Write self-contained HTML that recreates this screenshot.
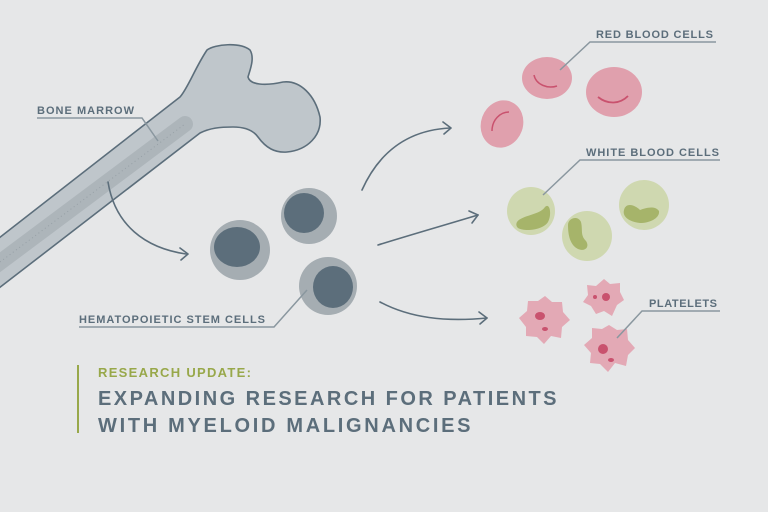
<!DOCTYPE html>
<html><head><meta charset="utf-8"><style>
html,body{margin:0;padding:0;background:#e6e7e8;}
svg{display:block;}
text{font-family:"Liberation Sans",sans-serif;font-weight:bold;}
</style></head><body>
<svg width="768" height="512" viewBox="0 0 768 512" xmlns="http://www.w3.org/2000/svg">
<rect width="768" height="512" fill="#e6e7e8"/>
<!-- bone -->
<path d="M-10,245 L180,97 C188,88 195,68 207,50 C215,44 240,42 250,50 C255,58 250,70 248,77 C250,85 265,86 283,82 C300,80 315,95 320,117 C322,135 308,150 287,152 C275,153 266,148 258,137 C253,130 245,127 233,127 C220,127 210,128 200,133 L-10,295 Z" fill="#bfc6cb" stroke="#5c6e7b" stroke-width="1.6" stroke-linejoin="round"/>
<line x1="-5" y1="266" x2="185" y2="124" stroke="#adb5ba" stroke-width="16" stroke-linecap="round"/>
<line x1="0" y1="262" x2="185" y2="124" stroke="#97a0a6" stroke-width="1" stroke-dasharray="1 3"/>
<!-- stem cells -->
<circle cx="240" cy="250" r="30" fill="#a5adb2"/>
<ellipse cx="237" cy="247" rx="23" ry="20" fill="#5c6e7b"/>
<circle cx="309" cy="216" r="28" fill="#a5adb2"/>
<ellipse cx="304" cy="213" rx="20" ry="20" fill="#5c6e7b"/>
<circle cx="328" cy="286" r="29" fill="#a5adb2"/>
<ellipse cx="333" cy="287" rx="20" ry="21" fill="#5c6e7b"/>
<!-- arrows -->
<g fill="none" stroke="#5c6e7b" stroke-width="1.6" stroke-linecap="round" stroke-linejoin="round">
<path d="M108,182 C115,225 145,248 186,254"/><path d="M180,248 L188,254 L181,260"/>
<path d="M362,190 C380,150 410,130 450,128"/><path d="M443,122 L451,128 L444,134"/>
<path d="M378,245 C410,235 445,225 478,215"/><path d="M469,211 L478,215 L472,223"/>
<path d="M380,302 C410,318 445,322 487,318"/><path d="M479,312 L487,318 L480,324"/>
</g>
<!-- RBC -->
<ellipse cx="547" cy="78" rx="25" ry="21" fill="#e0a0ad"/>
<path d="M534,75 C536,85 548,89 557,86" fill="none" stroke="#c9526e" stroke-width="1.5"/>
<ellipse cx="614" cy="92" rx="28" ry="25" fill="#e0a0ad"/>
<path d="M598,97 C608,105 620,104 628,96" fill="none" stroke="#c9526e" stroke-width="1.8"/>
<ellipse cx="502" cy="124" rx="21" ry="24" transform="rotate(20 502 124)" fill="#e0a0ad"/>
<path d="M509,112 C500,112 492,120 492,131" fill="none" stroke="#c9526e" stroke-width="1.5"/>
<!-- WBC -->
<circle cx="531" cy="211" r="24" fill="#cfd8b0"/>
<path d="M517,222 C522,215 540,215 545,207 C550,202 552,215 548,222 C543,230 525,232 518,228 C516,226 516,224 517,222 Z" fill="#a6b46a"/>
<circle cx="587" cy="236" r="25" fill="#cfd8b0"/>
<path d="M568,225 C568,218 578,215 581,222 C583,230 580,235 586,241 C590,247 585,252 578,249 C570,245 568,235 568,225 Z" fill="#a6b46a"/>
<circle cx="644" cy="205" r="25" fill="#cfd8b0"/>
<path d="M624,210 C626,202 635,205 640,210 C645,208 655,205 659,211 C660,218 650,223 640,223 C630,222 622,217 624,210 Z" fill="#a6b46a"/>
<!-- platelets -->
<polygon points="545,296 552,302 562,302 563,312 570,320 562,327 561,338 551,336 544,344 537,337 526,336 526,327 519,318 527,311 528,301 538,301" fill="#e3a9b5"/>
<ellipse cx="540" cy="316" rx="5" ry="4" fill="#c9526e"/>
<ellipse cx="545" cy="329" rx="3" ry="2" fill="#c9526e"/>
<polygon points="604,279 610,284 620,283 620,292 624,300 617,305 612,316 604,311 596,314 591,306 583,302 588,295 587,285 596,286" fill="#e3a9b5"/>
<ellipse cx="606" cy="297" rx="4" ry="4" fill="#c9526e"/>
<ellipse cx="595" cy="297" rx="2" ry="2" fill="#c9526e"/>
<polygon points="609,325 617,330 627,329 628,340 635,348 628,355 626,366 615,363 608,372 600,364 590,363 591,353 584,345 592,338 592,328 602,329" fill="#e3a9b5"/>
<ellipse cx="603" cy="349" rx="5" ry="5" fill="#c9526e"/>
<ellipse cx="611" cy="360" rx="3" ry="2" fill="#c9526e"/>
<!-- label lines -->
<g fill="none" stroke="#8a979f" stroke-width="1.5">
<path d="M37,118 L142,118 L158,141"/>
<path d="M79,327 L274,327 L307,290"/>
<path d="M716,42 L590,42 L560,70"/>
<path d="M720,160 L580,160 L543,195"/>
<path d="M720,311 L642,311 L617,338"/>
</g>
<g fill="#5c6e7b" font-size="11" letter-spacing="1">
<text x="37" y="114" textLength="98">BONE MARROW</text>
<text x="79" y="323" textLength="187">HEMATOPOIETIC STEM CELLS</text>
<text x="596" y="38" textLength="118">RED BLOOD CELLS</text>
<text x="586" y="156" textLength="134">WHITE BLOOD CELLS</text>
<text x="649" y="307" textLength="69">PLATELETS</text>
</g>
<!-- title -->
<rect x="77" y="365" width="2" height="68" fill="#98a84a"/>
<text x="98" y="377" font-size="13" fill="#98a84a" textLength="154" letter-spacing="1">RESEARCH UPDATE:</text>
<text x="98" y="405" font-size="20" fill="#5c6e7b" textLength="460" letter-spacing="1.5">EXPANDING RESEARCH FOR PATIENTS</text>
<text x="98" y="432" font-size="20" fill="#5c6e7b" textLength="374" letter-spacing="1.5">WITH MYELOID MALIGNANCIES</text>
</svg>
</body></html>
